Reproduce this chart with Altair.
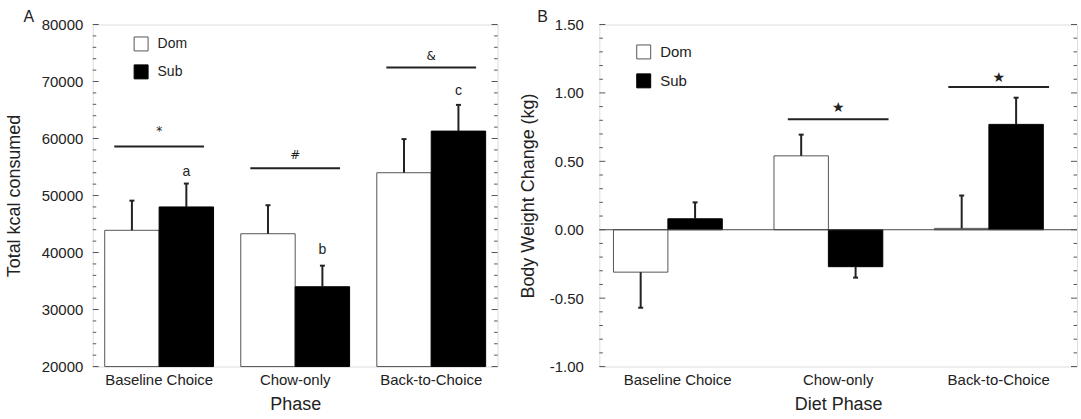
import altair as alt
import pandas as pd

# ---------------- data ----------------
phases = ["Baseline Choice", "Chow-only", "Back-to-Choice"]
groups = ["Dom", "Sub"]

# Panel A: total kcal consumed (mean and SEM)
kcal_dom = [43900, 43300, 54000]
kcal_sub = [48000, 34000, 61300]
kcal_dom_err = [5200, 5000, 5900]
kcal_sub_err = [4100, 3700, 4600]

# Panel A annotations
kcal_sig_marks = ["*", "#", "&"]
kcal_sig_line = [58600, 54800, 72450]
kcal_sig_text = [61400, 57150, 74400]
kcal_letters = ["a", "b", "c"]
kcal_letter_y = [54200, 40500, 68300]

# Panel B: body weight change (kg)
bw_dom = [-0.31, 0.54, 0.01]
bw_sub = [0.08, -0.27, 0.77]
bw_dom_err = [0.26, 0.155, 0.24]
bw_sub_err = [0.12, 0.08, 0.195]

# Panel B annotations
bw_sig_phases = ["Chow-only", "Back-to-Choice"]
bw_sig_marks = ["\u2605", "\u2605"]
bw_sig_line = [0.807, 1.043]
bw_sig_text = [0.887, 1.112]

panel_letters = ["A", "B"]

FONT = "Liberation Sans"
INK = "#222222"


def bar_table(dom, sub, dom_err, sub_err):
    rows = []
    for i, p in enumerate(phases):
        for g, v, e in (("Dom", dom[i], dom_err[i]), ("Sub", sub[i], sub_err[i])):
            sign = 1 if v >= 0 else -1
            rows.append({"phase": p, "group": g, "y": v, "y2": v + sign * e})
    return pd.DataFrame(rows)


def panel(df, ymin, ymax, ymajor, yminor, ytitle, xtitle, width, height,
          sig_df, sig_size, sig_font, letter_df, letter, legend_x, legend_y,
          legend_font, title_pad, label_pad, label_expr, zero_line):
    xdef = alt.X(
        "phase:N", sort=phases,
        scale=alt.Scale(domain=phases, paddingInner=0.2, paddingOuter=0.088),
        axis=alt.Axis(title=xtitle, labelAngle=0, ticks=False, domain=False,
                      labelPadding=6, titlePadding=8, labelFontSize=15,
                      titleFontSize=18, labelColor=INK, titleColor=INK,
                      titleFontWeight="normal", labelFont=FONT, titleFont=FONT),
    )
    ydef = alt.Y(
        "y:Q",
        scale=alt.Scale(domain=[ymin, ymax], zero=False, nice=False),
        axis=alt.Axis(title=ytitle, values=ymajor, ticks=False, domain=False,
                      grid=False, labelPadding=label_pad, titlePadding=title_pad,
                      labelFontSize=15, titleFontSize=18, labelColor=INK,
                      titleColor=INK, titleFontWeight="normal",
                      labelExpr=label_expr, labelFont=FONT, titleFont=FONT),
    )
    xoff = alt.XOffset("group:N", sort=groups)

    fill = alt.Fill(
        "group:N", sort=groups,
        scale=alt.Scale(domain=groups, range=["white", "black"]),
        legend=alt.Legend(title=None, orient="none", legendX=legend_x,
                          legendY=legend_y, symbolType="square",
                          symbolSize=196, symbolStrokeColor="#333333",
                          symbolStrokeWidth=1, labelFontSize=legend_font,
                          labelFont=FONT, labelColor=INK, labelOffset=9,
                          rowPadding=legend_font - 5, padding=0),
    )
    stroke = alt.Stroke(
        "group:N", sort=groups,
        scale=alt.Scale(domain=groups, range=["#555555", "black"]),
        legend=None,
    )

    base_val = 0 if ymin < 0 else ymin
    bars = alt.Chart(df).mark_bar(strokeWidth=1).encode(
        x=xdef, xOffset=xoff, y=ydef, y2=alt.Y2(datum=base_val),
        fill=fill, stroke=stroke,
    )
    err = alt.Chart(df).mark_rule(color=INK, strokeWidth=2).encode(
        x=xdef, xOffset=xoff, y=ydef, y2="y2:Q",
    )
    caps_df = df[["phase", "group", "y2"]].rename(columns={"y2": "y"})
    caps = alt.Chart(caps_df).mark_tick(
        orient="horizontal", size=5, thickness=2, color=INK, opacity=1
    ).encode(x=xdef, xOffset=xoff, y=ydef)

    sig_lines = alt.Chart(sig_df).mark_tick(
        orient="horizontal", size=sig_size, thickness=2, color=INK, opacity=1
    ).encode(x=xdef, y=alt.Y("line:Q", scale=alt.Scale(domain=[ymin, ymax], zero=False, nice=False)))
    sig_text = alt.Chart(sig_df).mark_text(
        fontSize=sig_font, font="DejaVu Sans", color=INK, baseline="middle"
    ).encode(x=xdef, y=ydef, text="mark:N")

    layers = [bars, err, caps, sig_lines, sig_text]

    if letter_df is not None:
        letters = alt.Chart(letter_df).mark_text(
            fontSize=14, font=FONT, color=INK, baseline="middle"
        ).encode(x=xdef, xOffset=xoff, y=ydef, text="mark:N")
        layers.append(letters)

    if zero_line:
        zdf = pd.DataFrame({"y": [0]})
        layers.append(alt.Chart(zdf).mark_rule(color="#444444", strokeWidth=1).encode(y=ydef))

    # inside tick marks on left and right frame edges
    tdf = pd.DataFrame({"y": yminor})
    tdf["major"] = [any(abs(v - m) < 1e-9 for m in ymajor) for v in yminor]
    tmaj = tdf[tdf["major"]]
    tmin = tdf[~tdf["major"]]
    for sub, L in ((tmaj, 6), (tmin, 3.5)):
        layers.append(alt.Chart(sub).mark_rule(color="#555555", strokeWidth=1).encode(
            y=ydef, x=alt.value(0), x2=alt.value(L)))
        layers.append(alt.Chart(sub).mark_rule(color="#555555", strokeWidth=1).encode(
            y=ydef, x=alt.value(width - L), x2=alt.value(width)))

    ldf = pd.DataFrame({"t": [letter]})
    lx = -64 if letter == "A" else -57
    layers.append(alt.Chart(ldf).mark_text(
        fontSize=16, font=FONT, color=INK, align="center", baseline="middle"
    ).encode(x=alt.value(lx), y=alt.value(-8), text="t:N"))

    return alt.layer(*layers).properties(width=width, height=height)


# ---- Panel A ----
dfA = bar_table(kcal_dom, kcal_sub, kcal_dom_err, kcal_sub_err)
sigA = pd.DataFrame({"phase": phases, "mark": kcal_sig_marks,
                     "line": kcal_sig_line, "y": kcal_sig_text})
letA = pd.DataFrame({"phase": phases, "group": ["Sub"] * 3,
                     "mark": kcal_letters, "y": kcal_letter_y})
majorA = list(range(20000, 80001, 10000))
minorA = list(range(20000, 80001, 2000))

chartA = panel(dfA, 20000, 80000, majorA, minorA, "Total kcal consumed", "Phase",
               406, 343, sigA, 90, 12, letA, panel_letters[0], 41, 12, 14,
               18, 10, "format(datum.value, 'd')", False)

# ---- Panel B ----
dfB = bar_table(bw_dom, bw_sub, bw_dom_err, bw_sub_err)
sigB = pd.DataFrame({"phase": bw_sig_phases, "mark": bw_sig_marks,
                     "line": bw_sig_line, "y": bw_sig_text})
majorB = [-1.0, -0.5, 0.0, 0.5, 1.0, 1.5]
minorB = [round(-1.0 + 0.1 * i, 2) for i in range(26)]

chartB = panel(dfB, -1.0, 1.5, majorB, minorB, "Body Weight Change (kg)", "Diet Phase",
               479, 343, sigB, 101, 14, None, panel_letters[1], 37, 20, 15,
               12, 16, "replace(format(datum.value, '.2f'), '\u2212', '-')", True)

chart = alt.hconcat(chartA, chartB, spacing=20).resolve_scale(
    fill="independent", stroke="independent"
).properties(
    padding={"left": 4, "top": 7, "right": 3, "bottom": 2}
).configure_view(
    stroke="#333333", strokeWidth=1
).configure(
    font=FONT, background="white"
)

chart.save("out.html", embed_options={"renderer": "svg", "actions": False})
